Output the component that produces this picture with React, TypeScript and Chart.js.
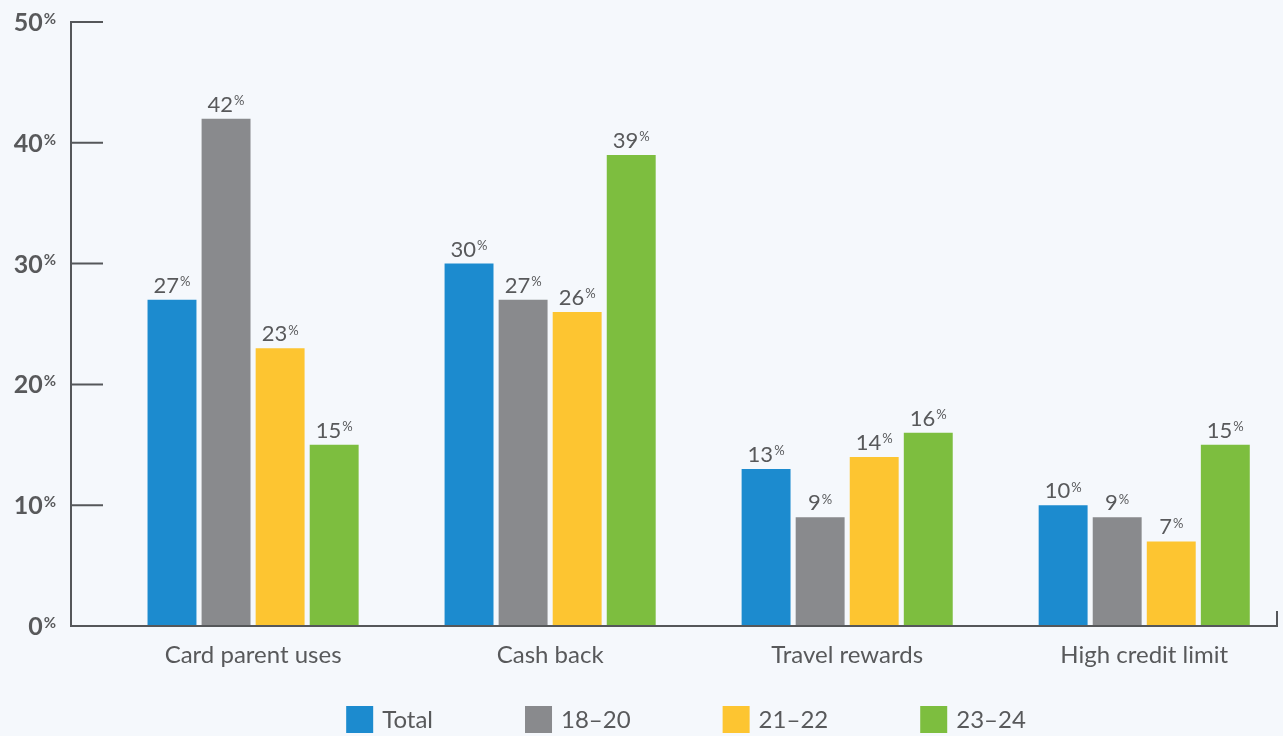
import React, { useEffect, useRef } from "react";
import { Chart, registerables } from "chart.js";

Chart.register(...registerables);

const categories = ["Card parent uses", "Cash back", "Travel rewards", "High credit limit"];
const seriesNames = ["Total", "18–20", "21–22", "23–24"];
const totalValues = [27, 30, 13, 10];
const age1820Values = [42, 27, 9, 9];
const age2122Values = [23, 26, 14, 7];
const age2324Values = [15, 39, 16, 15];
const seriesColors = ["#1c8bcf", "#898a8d", "#fdc531", "#7dbe3f"];
const yTicks = [0, 10, 20, 30, 40, 50];

const TEXT = "#58595b";
const AXIS = "#55575a";
const FONT = "Lato, 'Open Sans', sans-serif";

function drawPct(ctx: CanvasRenderingContext2D, num: string, cx: number, bottom: number, weight: string, big: number, small: number, align: "center" | "right") {
  ctx.save();
  ctx.textBaseline = "alphabetic";
  ctx.font = `${weight} ${big}px ${FONT}`;
  const w1 = ctx.measureText(num).width;
  ctx.font = `${weight} ${small}px ${FONT}`;
  const w2 = ctx.measureText("%").width;
  const total = w1 + w2 + 1;
  const x0 = align === "center" ? cx - total / 2 : cx - total;
  ctx.fillStyle = TEXT;
  ctx.font = `${weight} ${big}px ${FONT}`;
  ctx.fillText(num, x0, bottom);
  ctx.font = `${weight} ${small}px ${FONT}`;
  const capBig = big * 0.72;
  const capSmall = small * 0.72;
  ctx.fillText("%", x0 + w1 + 1, bottom - capBig + capSmall);
  ctx.restore();
}

const customPlugin = {
  id: "custom",
  beforeDraw(chart: any) {
    const { ctx, width, height } = chart;
    ctx.save();
    ctx.fillStyle = "#f5f8fc";
    ctx.fillRect(0, 0, width, height);
    ctx.restore();
  },
  afterDraw(chart: any) {
    const { ctx, chartArea } = chart;
    const ys = chart.scales.y;
    ctx.save();
    ctx.strokeStyle = AXIS;
    ctx.lineWidth = 2;
    ctx.lineCap = "square";
    ctx.beginPath();
    ctx.moveTo(chartArea.left, chartArea.top);
    ctx.lineTo(chartArea.left, chartArea.bottom);
    ctx.lineTo(chartArea.right, chartArea.bottom);
    ctx.lineTo(chartArea.right, chartArea.bottom - 14);
    ctx.stroke();
    yTicks.forEach((v) => {
      const py = ys.getPixelForValue(v);
      if (v > 0) {
        ctx.beginPath();
        ctx.moveTo(chartArea.left, py);
        ctx.lineTo(chartArea.left + 31, py);
        ctx.stroke();
      }
      drawPct(ctx, String(v), chartArea.left - 15, py + 9, "bold", 25, 15, "right");
    });
    ctx.restore();

    chart.data.datasets.forEach((ds: any, di: number) => {
      const meta = chart.getDatasetMeta(di);
      meta.data.forEach((el: any, i: number) => {
        const v = ds.data[i].y;
        drawPct(ctx, String(v), el.x, el.y - 7, "normal", 22, 13, "center");
      });
    });

    ctx.save();
    ctx.font = `normal 24px ${FONT}`;
    const box = 27;
    const gap = 9;
    const itemGap = 92;
    const widths = seriesNames.map((n) => box + gap + ctx.measureText(n).width);
    const totalW = widths.reduce((a, b) => a + b, 0) + itemGap * (seriesNames.length - 1);
    let x = 686 - totalW / 2;
    const top = 706;
    seriesNames.forEach((n, i) => {
      ctx.fillStyle = seriesColors[i];
      ctx.fillRect(x, top, box, box);
      ctx.fillStyle = TEXT;
      ctx.textBaseline = "middle";
      ctx.textAlign = "left";
      ctx.fillText(n, x + box + gap, top + box / 2 + 1);
      x += widths[i] + itemGap;
    });
    ctx.restore();
  },
};

export default function App() {
  const ref = useRef<HTMLCanvasElement | null>(null);
  useEffect(() => {
    document.body.style.margin = "0";
    const allSeries = [totalValues, age1820Values, age2122Values, age2324Values];
    const chart = new Chart(ref.current as HTMLCanvasElement, {
      type: "bar",
      data: {
        datasets: allSeries.map((vals, si) => ({
          label: seriesNames[si],
          data: vals.map((v, i) => ({ x: i, y: v })),
          backgroundColor: seriesColors[si],
          borderWidth: 0,
          categoryPercentage: 0.728,
          barPercentage: 0.905,
        })),
      },
      options: {
        animation: false,
        responsive: false,
        layout: { padding: { top: 22, right: 6, left: 0, bottom: 0 } },
        plugins: { legend: { display: false }, tooltip: { enabled: false } },
        scales: {
          x: {
            type: "linear",
            min: -0.613,
            max: 3.447,
            offset: false,
            grid: { display: false, drawTicks: false },
            border: { display: false },
            afterBuildTicks: (scale: any) => {
              scale.ticks = categories.map((_, i) => ({ value: i }));
            },
            afterFit: (scale: any) => {
              scale.height = 110;
            },
            ticks: {
              padding: 15,
              color: TEXT,
              font: { family: FONT, size: 24 },
              maxRotation: 0,
              autoSkip: false,
              callback: (v: any) => categories[v] ?? "",
            },
          },
          y: {
            min: 0,
            max: 50,
            grid: { display: false, drawTicks: false },
            border: { display: false },
            ticks: { display: false, stepSize: 10 },
            afterFit: (scale: any) => {
              scale.width = 71;
            },
          },
        },
      },
      plugins: [customPlugin],
    } as any);
    return () => chart.destroy();
  }, []);
  return (
    <div style={{ width: 1283, height: 736 }}>
      <canvas ref={ref} width={1283} height={736} style={{ display: "block" }} />
    </div>
  );
}
